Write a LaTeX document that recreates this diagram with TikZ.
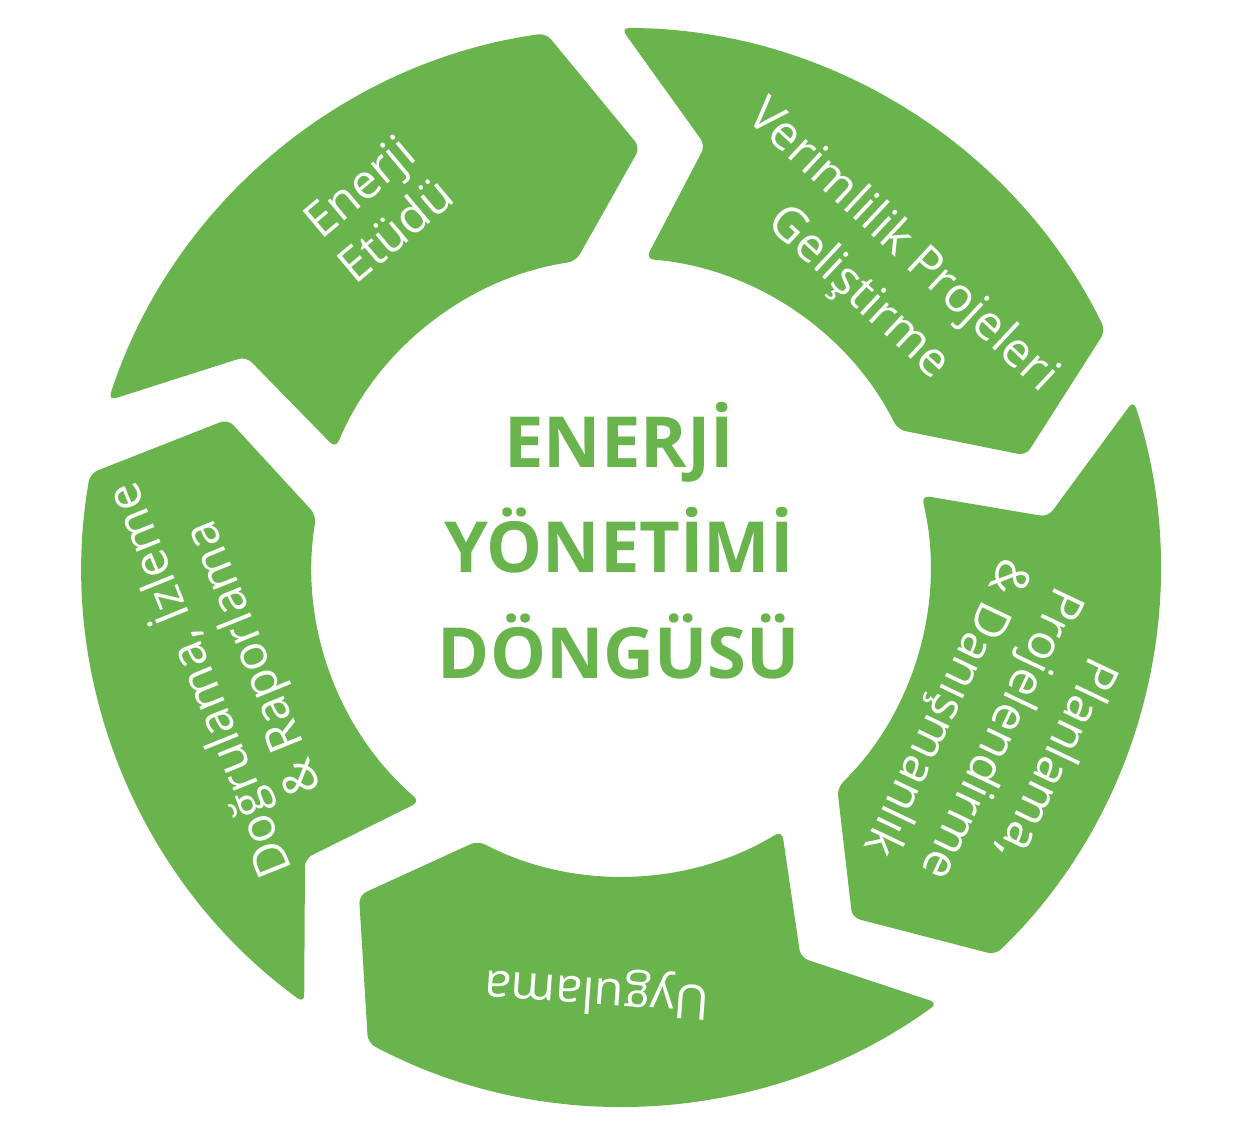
\documentclass[tikz,border=0pt]{standalone}
\usepackage{fontspec}
\setmainfont{Open Sans}
\definecolor{eg}{RGB}{105,180,76}
\begin{document}
\begin{tikzpicture}[x=1pt,y=1pt,
  seg/.style={fill=eg},
  lbl/.style={text=white, font=\fontsize{48}{57}\selectfont, align=center, inner sep=0pt},
  ctr/.style={text=eg, font=\fontsize{70.5}{80}\selectfont\bfseries, anchor=base, inner sep=0pt}]
\useasboundingbox (0,0) rectangle (1250,1134);
\begin{scope}[shift={(621,567)}]
\foreach \a in {162,90,18,-54,-126}{
  \fill[seg] (\a:539) [rounded corners=8pt] arc[start angle=\a, end angle=\a-64, radius=539]
    -- ({\a-74.6}:420) -- ({\a-63.6}:309)
    arc[start angle=\a-63.6, end angle=\a-4.6, radius=309]
    -- ({\a-11.3}:430) -- cycle;
}
\end{scope}
\node[ctr] (c1) at (619,666) {ENERJİ};
\node[ctr] (c2) at (619,561) {YÖNETİMİ};
\node[ctr] (c3) at (619,455) {DÖNGÜSÜ};
\node[lbl, rotate=40] (l1) at (377,926) {Enerji\\Etüdü};
\node[lbl, rotate=-43, font=\fontsize{48}{64}\selectfont] (l2) at (880,864) {Verimlilik Projeleri\\Geliştirme};
\node[lbl, rotate=-115.5, font=\fontsize{48}{61}\selectfont] (l3) at (1000,401) {Planlama,\\Projelendirme\\\& Danışmanlık};
\node[lbl, rotate=176] (l4) at (597,143) {Uygulama};
\node[lbl, rotate=112, font=\fontsize{48}{57}\selectfont] (l5) at (226,464) {Doğrulama, İzleme\\\& Raporlama};
\end{tikzpicture}
\end{document}
